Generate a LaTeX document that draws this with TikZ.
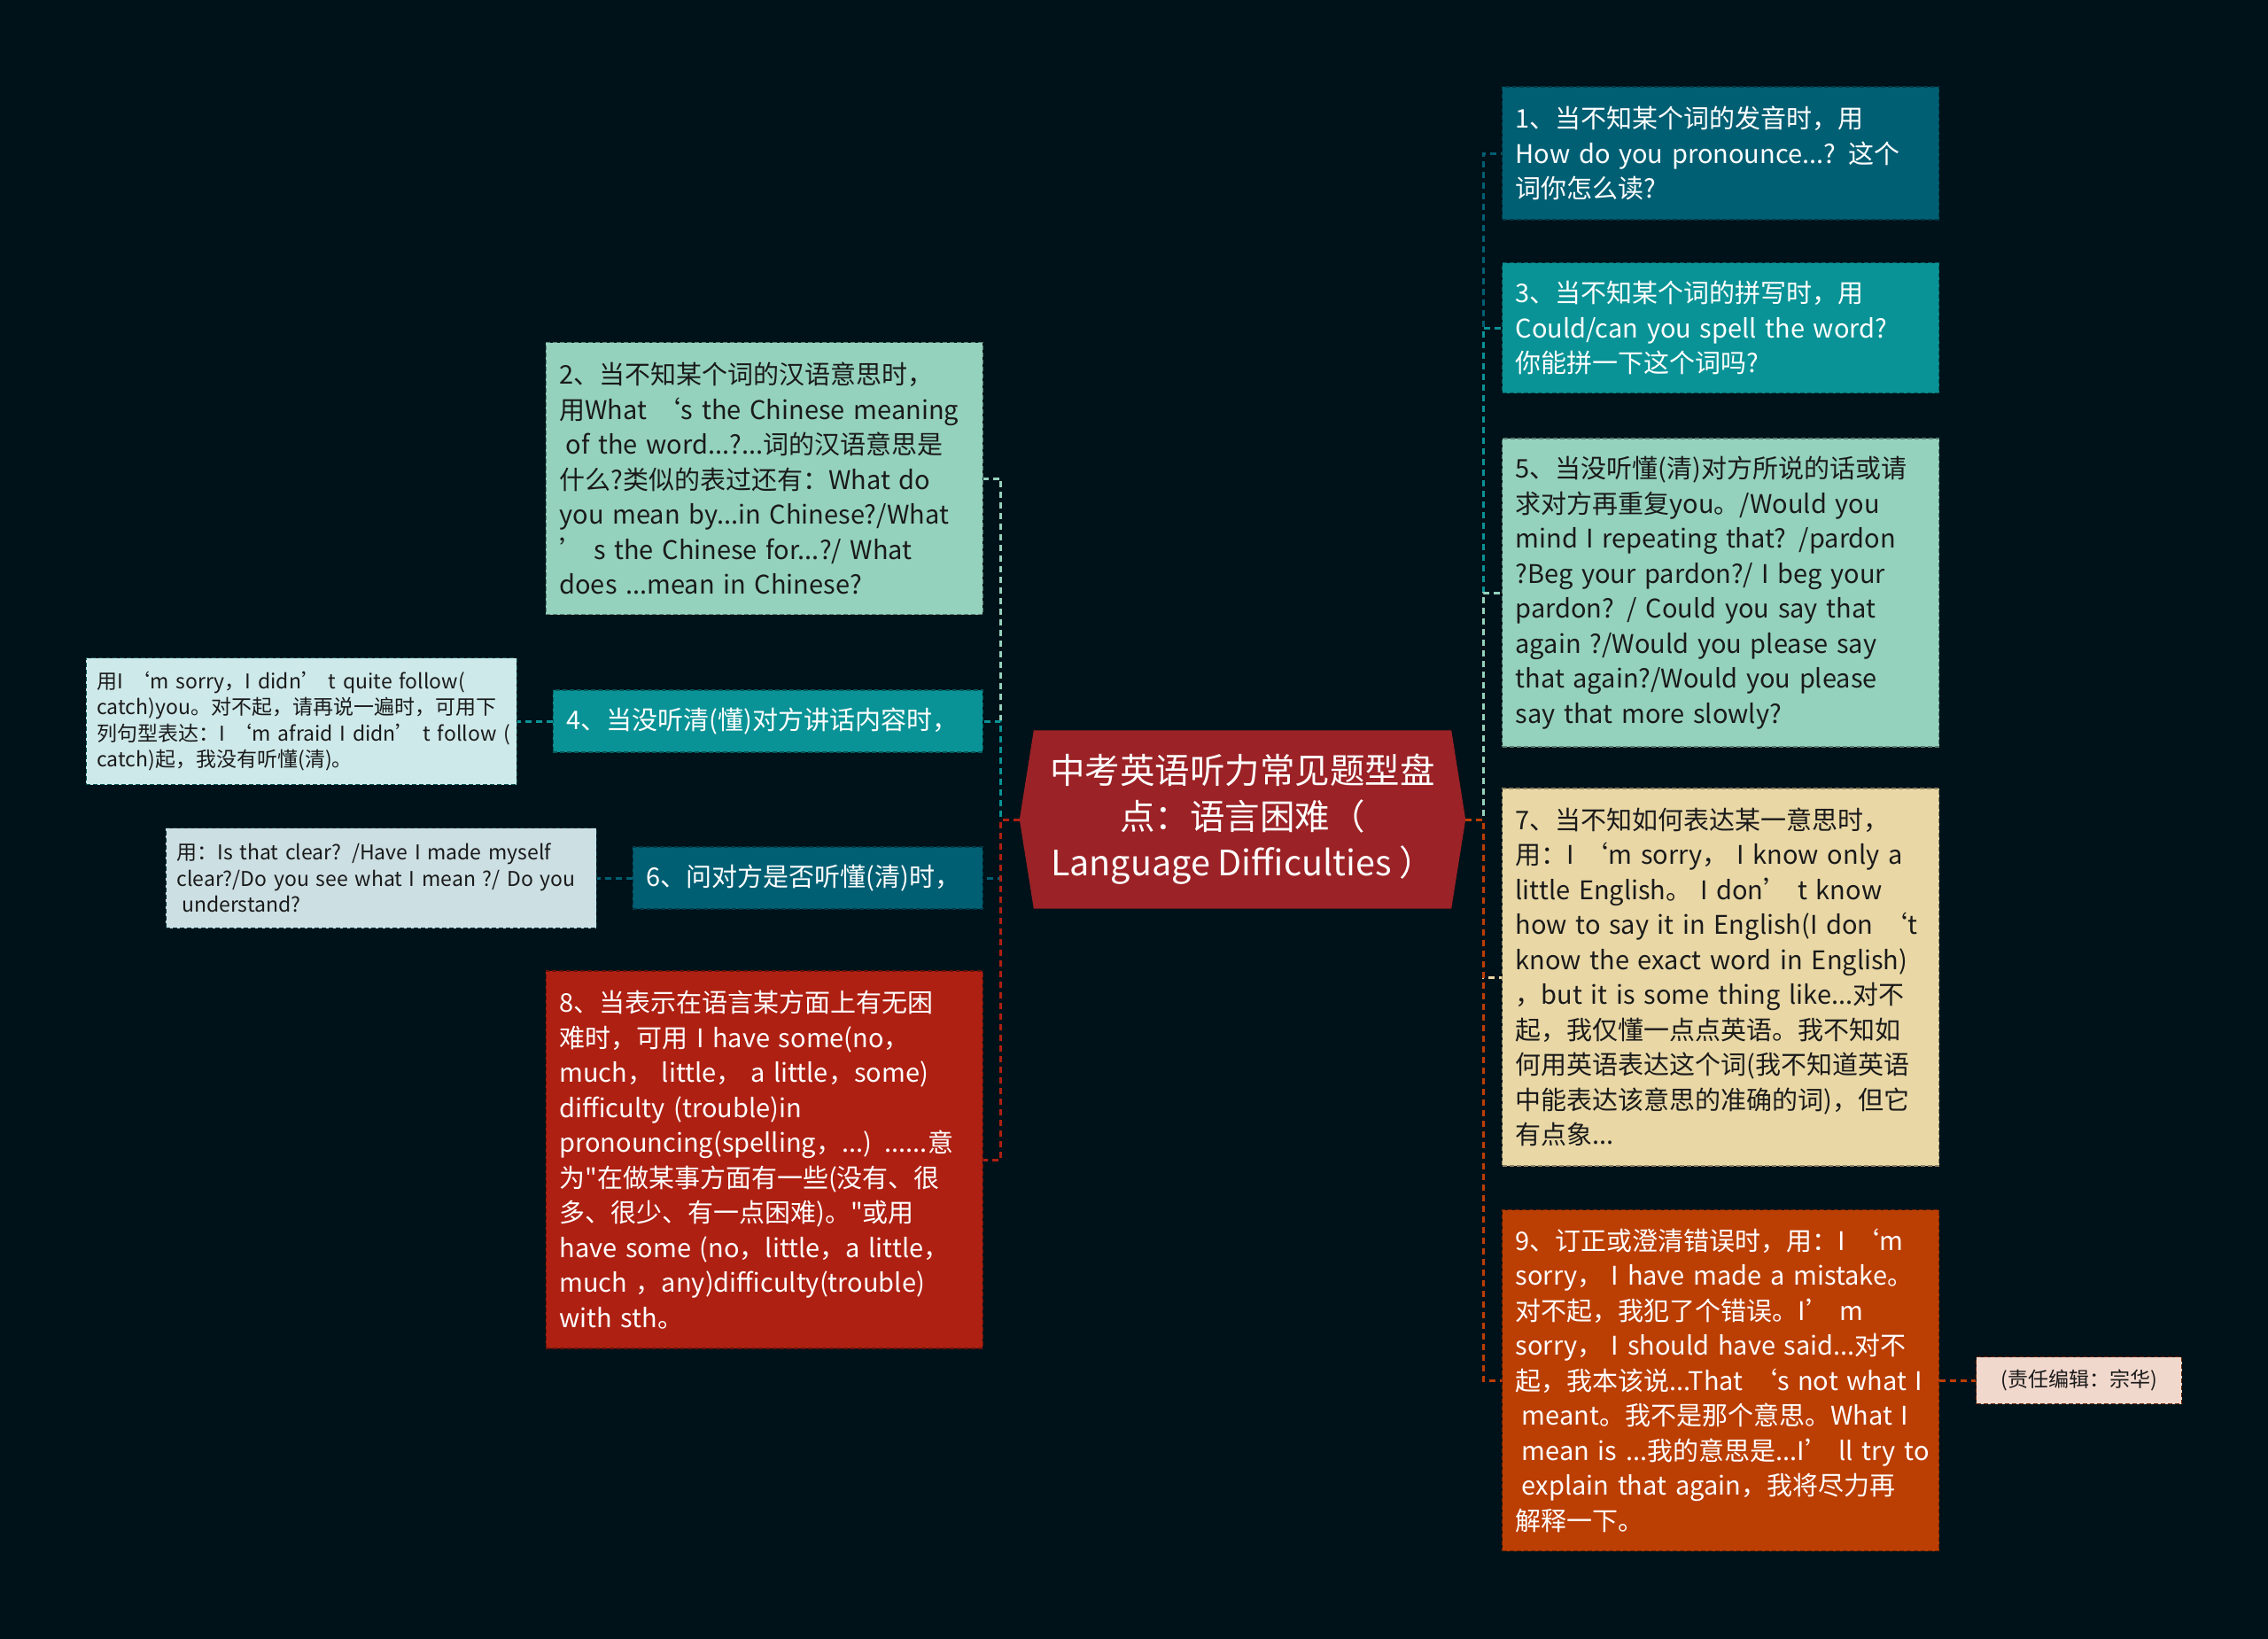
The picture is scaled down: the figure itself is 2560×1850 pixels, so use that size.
\documentclass[tikz,border=0pt]{standalone}
\usepackage{fontspec}
\setmainfont{Noto Sans CJK SC}[Ligatures=TeXOff]
\usetikzlibrary{backgrounds}
\definecolor{nightnavy}{HTML}{001219}
\definecolor{deepteal}{HTML}{005F73}
\definecolor{midteal}{HTML}{0A9396}
\definecolor{mintgreen}{HTML}{94D2BD}
\definecolor{sandbeige}{HTML}{E9D8A6}
\definecolor{rustorange}{HTML}{BB3E03}
\definecolor{brickred}{HTML}{AE2012}
\definecolor{winered}{HTML}{9B2226}
\definecolor{inktext}{HTML}{1A1A1A}

\tikzset{
  card/.style={draw=#1!60!black, fill=#1, dash pattern=on 5pt off 3pt, line width=1.2pt,
    inner xsep=15pt, inner ysep=0pt, align=left, text width=463pt,
    font=\fontsize{29}{39.5}\selectfont},
  cardlight/.style={card=#1, text=inktext},
  carddark/.style={card=#1, text=white},
  memo/.style={draw=#1!55!black, fill=#1!20!white, dash pattern=on 5pt off 3pt, line width=1.2pt,
    inner xsep=12pt, inner ysep=0pt, align=left, text width=462pt, text=inktext,
    font=\fontsize{23}{29.4}\selectfont},
  hub/.style={minimum width=503pt, minimum height=201pt, inner sep=0pt, align=center,
    text=white, font=\fontsize{39.5}{52}\selectfont},
  link/.style={draw=#1, line width=3pt, dash pattern=on 7pt off 5pt},
}

\begin{document}
\begin{tikzpicture}[x=1pt,y=-1pt]
  % centre
  \node[hub] (root) at (1402.5,925) {中考英语听力常见题型盘\\点：语言困难（\\Language Difficulties ）};

  % right side
  \node[carddark=deepteal, anchor=west, minimum height=150pt] (b1) at (1695,173)
    {1、当不知某个词的发音时，用\\How do you pronounce...? 这个\\词你怎么读?};
  \node[carddark=midteal, anchor=west, minimum height=147pt] (b3) at (1695,370)
    {3、当不知某个词的拼写时，用\\Could/can you spell the word?\\你能拼一下这个词吗?};
  \node[cardlight=mintgreen, anchor=west, minimum height=348pt] (b5) at (1695,669)
    {5、当没听懂(清)对方所说的话或请\\求对方再重复you。/Would you\\mind I repeating that? /pardon\\?Beg your pardon?/ I beg your\\pardon? / Could you say that\\again ?/Would you please say\\that again?/Would you please\\say that more slowly?};
  \node[cardlight=sandbeige, anchor=west, minimum height=426pt] (b7) at (1695,1103)
    {7、当不知如何表达某一意思时，\\用：I ‘m sorry， I know only a\\little English。 I don’ t know\\how to say it in English(I don ‘t\\know the exact word in English)\\，but it is some thing like...对不\\起，我仅懂一点点英语。我不知如\\何用英语表达这个词(我不知道英语\\中能表达该意思的准确的词)，但它\\有点象...};
  \node[carddark=rustorange, anchor=west, minimum height=385pt] (b9) at (1695,1558)
    {9、订正或澄清错误时，用：I ‘m\\sorry， I have made a mistake。\\对不起，我犯了个错误。I’ m\\sorry， I should have said...对不\\\mbox{起，我本该说...That ‘s not what I}\\\mbox{\hspace*{.25em}meant。我不是那个意思。What I}\\\mbox{\hspace*{.25em}mean is ...我的意思是...I’ ll try to}\\\hspace*{.25em}explain that again，我将尽力再\\解释一下。};
  \node[memo=rustorange, anchor=west, minimum height=53pt, text width=208pt, align=center] (ed) at (2230,1558)
    {(责任编辑：宗华)};

  % left side
  \node[cardlight=mintgreen, anchor=east, minimum height=307pt] (b2) at (1110,540)
    {2、当不知某个词的汉语意思时，\\用What ‘s the Chinese meaning\\\hspace*{.25em}of the word...?...词的汉语意思是\\什么?类似的表过还有：What do\\you mean by...in Chinese?/What\\’ s the Chinese for...?/ What\\does ...mean in Chinese?};
  \node[carddark=midteal, anchor=east, minimum height=70pt, text width=455pt] (b4) at (1110,814)
    {4、当没听清(懂)对方讲话内容时，};
  \node[memo=midteal, anchor=east, minimum height=143pt] (n4) at (584,814)
    {用I ‘m sorry，I didn’ t quite follow(\\catch)you。对不起，请再说一遍时，可用下\\\mbox{列句型表达：I ‘m afraid I didn’ t follow (}\\catch)起，我没有听懂(清)。};
  \node[carddark=deepteal, anchor=east, minimum height=70pt, text width=365pt] (b6) at (1110,991)
    {6、问对方是否听懂(清)时，};
  \node[memo=deepteal, anchor=east, minimum height=113pt] (n6) at (674,991)
    {用：Is that clear? /Have I made myself\\clear?/Do you see what I mean ?/ Do you\\\hspace*{.25em}understand?};
  \node[carddark=brickred, anchor=east, minimum height=426pt] (b8) at (1110,1309)
    {8、当表示在语言某方面上有无困\\难时，可用 I have some(no，\\much， little， a little，some)\\difficulty (trouble)in\\pronouncing(spelling，...) ......意\\为"在做某事方面有一些(没有、很\\多、很少、有一点困难)。"或用\\have some (no，little，a little，\\much ，any)difficulty(trouble)\\with sth。};

  \begin{scope}[on background layer]
    \fill[nightnavy] (0,0) rectangle (2560,1850);
    \fill[winered] (root.west) -- ([xshift=16pt]root.north west) -- ([xshift=-16pt]root.north east)
      -- (root.east) -- ([xshift=-16pt]root.south east) -- ([xshift=16pt]root.south west) -- cycle;
  \end{scope}

  % connectors
  \draw[link=mintgreen] (root.west) -- ++(-21,0) |- (b2.east);
  \draw[link=midteal] (root.west) -- ++(-21,0) |- (b4.east);
  \draw[link=deepteal] (root.west) -- ++(-21,0) |- (b6.east);
  \draw[link=brickred] (root.west) -- ++(-21,0) |- (b8.east);
  \draw[link=deepteal] (root.east) -- ++(20,0) |- (b1.west);
  \draw[link=midteal] (root.east) -- ++(20,0) |- (b3.west);
  \draw[link=mintgreen] (root.east) -- ++(20,0) |- (b5.west);
  \draw[link=sandbeige] (root.east) -- ++(20,0) |- (b7.west);
  \draw[link=rustorange] (root.east) -- ++(20,0) |- (b9.west);
  \draw[link=midteal] (b4.west) -- (n4.east);
  \draw[link=deepteal] (b6.west) -- (n6.east);
  \draw[link=rustorange] (b9.east) -- (ed.west);
\end{tikzpicture}
\end{document}
